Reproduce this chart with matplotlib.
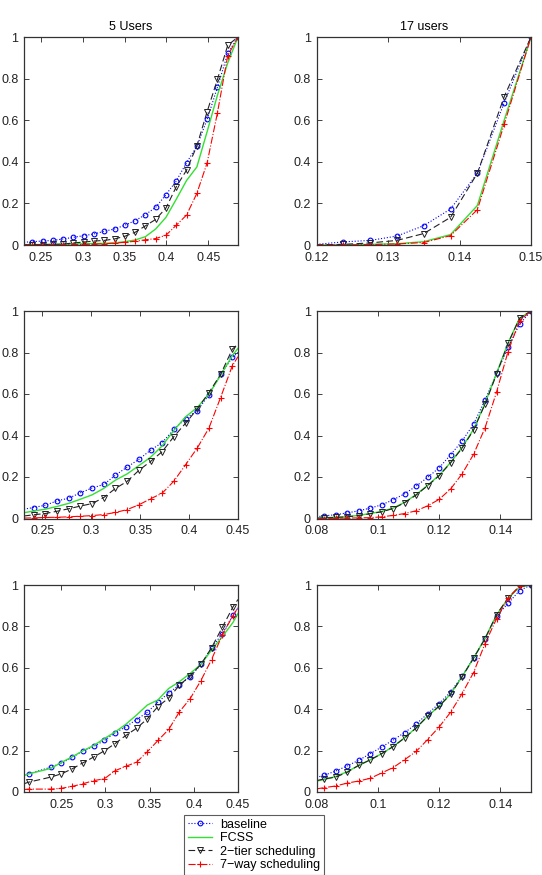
import matplotlib
matplotlib.use("Agg")
import matplotlib.pyplot as plt

plt.rcParams['font.family'] = ['Liberation Sans', 'DejaVu Sans']
plt.rcParams['font.size'] = 9

# ---- data (first point of each panel is the left edge, unmarked)
# top row, 5 users
x_a = [0.2297, 0.2396, 0.2519, 0.2642, 0.2765, 0.2888, 0.3011, 0.3133, 0.3256, 0.3379,
       0.3502, 0.3625, 0.3748, 0.3871, 0.3994, 0.4117, 0.4240, 0.4363, 0.4486, 0.4609,
       0.4732, 0.4855]
base_a = [0.013, 0.016, 0.019, 0.022, 0.029, 0.037, 0.045, 0.053, 0.066, 0.077, 0.095,
          0.117, 0.146, 0.181, 0.242, 0.308, 0.396, 0.474, 0.604, 0.758, 0.921, 1.0]
fcss_a = [0.002, 0.002, 0.002, 0.003, 0.004, 0.005, 0.006, 0.007, 0.008, 0.010, 0.016,
          0.024, 0.040, 0.077, 0.133, 0.220, 0.310, 0.375, 0.545, 0.720, 0.875, 1.0]
tier_a = [0.001, 0.002, 0.002, 0.003, 0.004, 0.010, 0.014, 0.019, 0.022, 0.029, 0.042,
          0.061, 0.092, 0.123, 0.178, 0.280, 0.360, 0.476, 0.641, 0.796, 0.960, 1.0]
way_a = [0.0, 0.0, 0.0, 0.0, 0.001, 0.002, 0.003, 0.004, 0.006, 0.009, 0.013, 0.018,
         0.025, 0.031, 0.047, 0.095, 0.144, 0.248, 0.395, 0.635, 0.910, 1.0]

# top row, 17 users
x_b = [0.12, 0.12375, 0.1275, 0.13125, 0.135, 0.13875, 0.1425, 0.14625, 0.15]
base_b = [0.003, 0.015, 0.022, 0.043, 0.093, 0.173, 0.345, 0.684, 1.0]
fcss_b = [0.0, 0.0, 0.003, 0.006, 0.016, 0.050, 0.190, 0.600, 1.0]
tier_b = [0.001, 0.003, 0.010, 0.022, 0.055, 0.133, 0.345, 0.713, 1.0]
way_b = [0.0, 0.0, 0.002, 0.005, 0.012, 0.045, 0.170, 0.580, 1.0]

# middle row, left (last point is the right edge, unmarked)
x_c = [0.2313, 0.2412, 0.2531, 0.2651, 0.2770, 0.2890, 0.3009, 0.3128, 0.3248, 0.3367,
       0.3487, 0.3606, 0.3725, 0.3845, 0.3964, 0.4084, 0.4203, 0.4322, 0.4442, 0.45]
base_c = [0.045, 0.053, 0.064, 0.085, 0.098, 0.124, 0.147, 0.164, 0.209, 0.248, 0.285,
          0.329, 0.366, 0.430, 0.481, 0.520, 0.596, 0.694, 0.776, 0.800]
fcss_c = [0.028, 0.036, 0.045, 0.058, 0.073, 0.093, 0.114, 0.145, 0.185, 0.215, 0.255,
          0.295, 0.350, 0.425, 0.490, 0.535, 0.600, 0.690, 0.785, 0.820]
tier_c = [0.012, 0.018, 0.024, 0.035, 0.047, 0.060, 0.072, 0.101, 0.145, 0.179, 0.232,
          0.275, 0.322, 0.395, 0.459, 0.528, 0.607, 0.694, 0.816, 0.840]
way_c = [0.002, 0.003, 0.005, 0.006, 0.008, 0.011, 0.014, 0.019, 0.029, 0.043, 0.066,
         0.095, 0.122, 0.180, 0.259, 0.340, 0.436, 0.583, 0.736, 0.780]

# middle row, right
x_d = [0.08, 0.0825, 0.08625, 0.09, 0.09375, 0.0975, 0.10125, 0.105, 0.10875, 0.1125,
       0.11625, 0.12, 0.12375, 0.1275, 0.13125, 0.135, 0.13875, 0.1425, 0.14625, 0.15]
base_d = [0.008, 0.013, 0.018, 0.027, 0.037, 0.050, 0.066, 0.090, 0.119, 0.156, 0.198,
          0.244, 0.307, 0.373, 0.455, 0.571, 0.699, 0.825, 0.936, 1.0]
fcss_d = [0.002, 0.004, 0.006, 0.009, 0.015, 0.024, 0.034, 0.050, 0.078, 0.115, 0.160,
          0.208, 0.270, 0.342, 0.430, 0.555, 0.700, 0.845, 0.965, 1.0]
tier_d = [0.001, 0.003, 0.005, 0.008, 0.014, 0.023, 0.032, 0.048, 0.076, 0.113, 0.158,
          0.206, 0.268, 0.339, 0.426, 0.551, 0.695, 0.844, 0.965, 1.0]
way_d = [0.0, 0.0, 0.001, 0.002, 0.003, 0.004, 0.008, 0.015, 0.024, 0.037, 0.061,
         0.092, 0.142, 0.215, 0.309, 0.437, 0.609, 0.804, 0.953, 1.0]

# bottom row, left (last point is the right edge, unmarked)
x_e = [0.208, 0.2137, 0.2383, 0.2504, 0.2625, 0.2747, 0.2868, 0.2989, 0.3110, 0.3231,
       0.3353, 0.3474, 0.3595, 0.3716, 0.3837, 0.3959, 0.4080, 0.4201, 0.4322, 0.4443,
       0.45]
base_e = [0.082, 0.088, 0.120, 0.140, 0.167, 0.199, 0.220, 0.249, 0.286, 0.315, 0.350,
          0.385, 0.435, 0.478, 0.517, 0.557, 0.616, 0.697, 0.764, 0.854, 0.890]
fcss_e = [0.080, 0.088, 0.114, 0.143, 0.170, 0.199, 0.225, 0.258, 0.290, 0.327, 0.372,
          0.420, 0.445, 0.500, 0.533, 0.573, 0.616, 0.686, 0.750, 0.819, 0.862]
tier_e = [0.040, 0.048, 0.072, 0.088, 0.112, 0.141, 0.169, 0.199, 0.234, 0.273, 0.308,
          0.353, 0.413, 0.454, 0.515, 0.562, 0.616, 0.697, 0.795, 0.894, 0.930]
way_e = [0.012, 0.014, 0.014, 0.018, 0.027, 0.040, 0.055, 0.064, 0.103, 0.124, 0.144,
         0.194, 0.249, 0.302, 0.387, 0.451, 0.538, 0.640, 0.758, 0.852, 0.890]

# bottom row, right
x_f = x_d
base_f = [0.070, 0.081, 0.101, 0.126, 0.153, 0.185, 0.217, 0.251, 0.287, 0.328, 0.378,
          0.427, 0.483, 0.559, 0.649, 0.741, 0.850, 0.911, 0.973, 1.0]
fcss_f = [0.053, 0.060, 0.075, 0.098, 0.128, 0.155, 0.185, 0.220, 0.262, 0.310, 0.366,
          0.415, 0.473, 0.557, 0.647, 0.742, 0.855, 0.935, 0.990, 1.0]
tier_f = [0.055, 0.063, 0.072, 0.095, 0.129, 0.155, 0.185, 0.219, 0.261, 0.309, 0.366,
          0.414, 0.472, 0.556, 0.646, 0.741, 0.857, 0.937, 0.994, 1.0]
way_f = [0.015, 0.021, 0.029, 0.043, 0.053, 0.066, 0.092, 0.118, 0.156, 0.196, 0.253,
         0.314, 0.385, 0.475, 0.577, 0.717, 0.837, 0.937, 0.994, 1.0]

labels = ['baseline', 'FCSS', '2\u2212tier scheduling', '7\u2212way scheduling']
titles = ['5 Users', '17 users']
xticks_left = [0.25, 0.3, 0.35, 0.4, 0.45]
xticks_b = [0.12, 0.13, 0.14, 0.15]
xticks_right = [0.08, 0.1, 0.12, 0.14]
yticks = [0, 0.2, 0.4, 0.6, 0.8, 1]

panels = [
    (x_a, base_a, fcss_a, tier_a, way_a, xticks_left, False),
    (x_b, base_b, fcss_b, tier_b, way_b, xticks_b, False),
    (x_c, base_c, fcss_c, tier_c, way_c, xticks_left, True),
    (x_d, base_d, fcss_d, tier_d, way_d, xticks_right, False),
    (x_e, base_e, fcss_e, tier_e, way_e, xticks_left, True),
    (x_f, base_f, fcss_f, tier_f, way_f, xticks_right, False),
]

W, H = 542, 875
fig = plt.figure(figsize=(W / 100, H / 100), dpi=100)

col_left = [24, 316.5]
col_width = [214, 214.5]
row_top = [37, 311, 585]
row_height = [208, 207.5, 207]

green = '#33e033'
lines = None
for i, (x, base, fcss, tier, way, xt, edge_right) in enumerate(panels):
    r, c = divmod(i, 2)
    ax = fig.add_axes([col_left[c] / W, 1 - (row_top[r] + row_height[r]) / H,
                       col_width[c] / W, row_height[r] / H])
    n = len(x)
    marked = slice(1, n - 1) if edge_right else slice(1, n)

    l1, = ax.plot(x, base, ':', color='b', marker='o', markersize=3.4,
                  markerfacecolor='none', markeredgewidth=0.8, linewidth=0.8,
                  markevery=marked)
    l2, = ax.plot(x, fcss, '-', color=green, linewidth=1.0)
    l3, = ax.plot(x, tier, '--', color='#222222', marker='v', markersize=4,
                  markerfacecolor='none', markeredgewidth=0.7, linewidth=0.8,
                  dashes=(6, 3), markevery=marked)
    l4, = ax.plot(x, way, '-.', color='r', marker='+', markersize=4,
                  markeredgewidth=0.8, linewidth=0.8, markevery=marked)
    if lines is None:
        lines = [l1, l2, l3, l4]

    ax.set_xlim(x[0], x[-1])
    ax.set_ylim(0, 1)
    ax.set_xticks(xt)
    ax.set_xticklabels(['%g' % v for v in xt])
    ax.set_yticks(yticks)
    ax.set_yticklabels(['%g' % v for v in yticks])
    ax.tick_params(direction='in', top=True, right=True, length=3.5,
                   width=0.6, labelsize=9, colors='#222222')
    ax.tick_params(axis='x', pad=5)
    ax.tick_params(axis='y', pad=4)
    for s in ax.spines.values():
        s.set_linewidth(0.9)
        s.set_color('#333333')
    if r == 0:
        ax.set_title(titles[c], fontsize=9, pad=5)

leg = fig.legend(lines, labels, loc='upper left',
                 bbox_to_anchor=(184 / W, 1 - 815 / H), fontsize=9,
                 frameon=True, fancybox=False, borderaxespad=0,
                 handlelength=1.9, handletextpad=0.7, labelspacing=0.12,
                 borderpad=0.3)
leg.get_frame().set_edgecolor('#333333')
leg.get_frame().set_linewidth(0.8)

fig.savefig('out.png', dpi=100)
